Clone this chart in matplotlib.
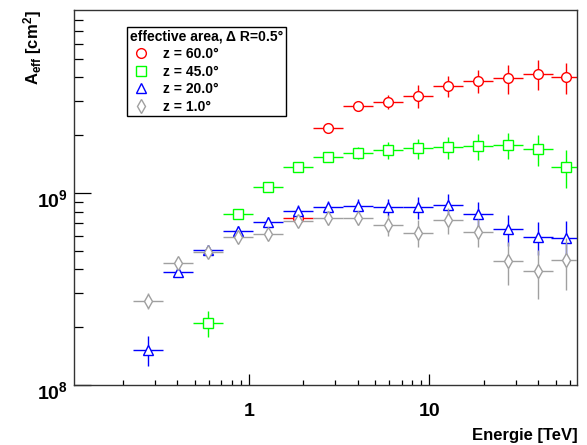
import numpy as np
import matplotlib
matplotlib.use('Agg')
import matplotlib.pyplot as plt
from matplotlib.lines import Line2D
from matplotlib.transforms import ScaledTranslation
from matplotlib.ticker import FuncFormatter, LogLocator, NullFormatter

plt.rcParams['font.family'] = ['Liberation Sans', 'DejaVu Sans']
plt.rcParams['font.weight'] = 'bold'
plt.rcParams['mathtext.fontset'] = 'custom'
plt.rcParams['mathtext.rm'] = 'Liberation Sans:bold'
plt.rcParams['mathtext.bf'] = 'Liberation Sans:bold'
plt.rcParams['mathtext.it'] = 'Liberation Sans:bold'

# bin centres (TeV), 6 bins per decade
energy = [0.275, 0.404, 0.593, 0.869, 1.274, 1.87, 2.74, 4.02, 5.9, 8.66,
          12.7, 18.6, 27.3, 40.1, 57.2]

# z = 60 deg (starts at bin 5)
e_60 = energy[5:]
a_60 = [7.4e8, 2.17e9, 2.84e9, 2.99e9, 3.21e9, 3.62e9, 3.85e9, 3.96e9, 4.18e9, 4.01e9]
err_60 = [0.36e8, 0.8e8, 1.4e8, 2.5e8, 4.3e8, 4.6e8, 5.4e8, 6.7e8, 7.5e8, 7.2e8]

# z = 45 deg (starts at bin 2)
e_45 = energy[2:]
a_45 = [2.10e8, 7.74e8, 1.07e9, 1.37e9, 1.54e9, 1.62e9, 1.675e9, 1.71e9, 1.73e9,
        1.76e9, 1.78e9, 1.70e9, 1.37e9]
err_45 = [0.32e8, 0.25e8, 0.35e8, 0.7e8, 0.8e8, 1.2e8, 1.7e8, 2.1e8, 2.3e8,
          2.7e8, 2.8e8, 3.1e8, 3.1e8]

# z = 20 deg
e_20 = energy
a_20 = [1.52e8, 3.89e8, 5.05e8, 6.34e8, 7.09e8, 8.06e8, 8.45e8, 8.59e8, 8.48e8,
        8.42e8, 8.69e8, 7.74e8, 6.49e8, 5.92e8, 5.85e8]
err_20 = [0.27e8, 0.24e8, 0.25e8, 0.39e8, 0.44e8, 0.6e8, 0.63e8, 0.76e8, 0.86e8,
          1.07e8, 1.16e8, 1.2e8, 1.17e8, 1.17e8, 1.32e8]

# z = 1 deg
e_1 = energy
a_1 = [2.75e8, 4.33e8, 4.95e8, 5.88e8, 6.12e8, 7.18e8, 7.38e8, 7.38e8, 6.81e8,
       6.21e8, 7.23e8, 6.27e8, 4.44e8, 3.93e8, 4.46e8]
err_1 = [0.26e8, 0.27e8, 0.31e8, 0.36e8, 0.38e8, 0.54e8, 0.55e8, 0.55e8, 0.86e8,
         1.0e8, 1.1e8, 1.06e8, 1.14e8, 1.13e8, 1.35e8]

labels = ['z = 60.0°', 'z = 45.0°', 'z = 20.0°', 'z = 1.0°']
colors = ['#ff0000', '#00ff00', '#0000ff', '#a0a0a0']
markers = ['o', 's', '^', 'd']

half = 1.0 / 12  # half bin width in decades


def xerr(e):
    e = np.asarray(e)
    return [e * (1 - 10**-half), e * (10**half - 1)]


fig = plt.figure(figsize=(5.87, 4.45), dpi=100)
ax = fig.add_axes([0.126, 0.1348, 0.8575, 0.8427])

series = [(e_60, a_60, err_60), (e_45, a_45, err_45), (e_20, a_20, err_20), (e_1, a_1, err_1)]
for i, (e, a, er) in enumerate(series):
    ax.errorbar(e, a, yerr=er, xerr=xerr(e), fmt=markers[i], color=colors[i],
                mfc='white', mec=colors[i], ms=7, mew=1.0, elinewidth=1.0,
                capsize=0, zorder=2 + i)

ax.set_xscale('log')
ax.set_yscale('log')
ax.set_xlim(0.107, 66)
ax.set_ylim(1e8, 8.98e9)

ax.xaxis.set_major_locator(LogLocator(base=10))
ax.xaxis.set_minor_locator(LogLocator(base=10, subs=np.arange(2, 10)))
ax.yaxis.set_major_locator(LogLocator(base=10))
ax.yaxis.set_minor_locator(LogLocator(base=10, subs=np.arange(2, 10)))
ax.xaxis.set_major_formatter(FuncFormatter(lambda v, p: '%g' % v))
ax.yaxis.set_major_formatter(FuncFormatter(
    lambda v, p: r'$\mathbf{10^{%d}}$' % int(round(np.log10(v)))))
ax.xaxis.set_minor_formatter(NullFormatter())
ax.yaxis.set_minor_formatter(NullFormatter())

ax.tick_params(axis='x', which='major', direction='in', length=8, width=0.9,
               pad=13, labelsize=14)
ax.tick_params(axis='x', which='minor', direction='in', length=3.6, width=0.9)
ax.tick_params(axis='y', which='major', direction='in', length=12, width=0.9,
               pad=4, labelsize=14)
ax.tick_params(axis='y', which='minor', direction='in', length=6.7, width=0.9)
for sp in ax.spines.values():
    sp.set_linewidth(1.0)
    sp.set_color('#333333')

# ROOT puts the exponent labels a little below the tick
shift = ScaledTranslation(0, -3.5 / 72, fig.dpi_scale_trans)
for t in ax.yaxis.get_major_ticks():
    t.label1.set_transform(t.label1.get_transform() + shift)

fig.text(0.984, 0.022, 'Energie [TeV]', ha='right', va='center',
         fontsize=12, fontweight='bold')
fig.text(0.056, 0.978, r'A$_{\mathrm{eff}}$ [cm$^{2}$]', rotation=90, ha='center',
         va='top', fontsize=12, fontweight='bold')

handles = [Line2D([], [], ls='none', marker=markers[i], color=colors[i], mfc='white',
                  mec=colors[i], ms=7, mew=1.0) for i in range(4)]
leg = ax.legend(handles, labels, title='effective area, Δ R=0.5°',
                loc='upper left', bbox_to_anchor=(127 / 587, 1 - 27 / 445),
                bbox_transform=fig.transFigure, frameon=True, fancybox=False,
                edgecolor='black', framealpha=1, borderpad=0.2,
                handletextpad=0.8, handlelength=1.6, labelspacing=0.25,
                borderaxespad=0,
                prop={'size': 10, 'weight': 'bold'},
                title_fontproperties={'size': 10, 'weight': 'bold'})
leg.get_frame().set_linewidth(1.0)
leg._legend_box.align = 'left'

fig.savefig('out.png', dpi=100)
